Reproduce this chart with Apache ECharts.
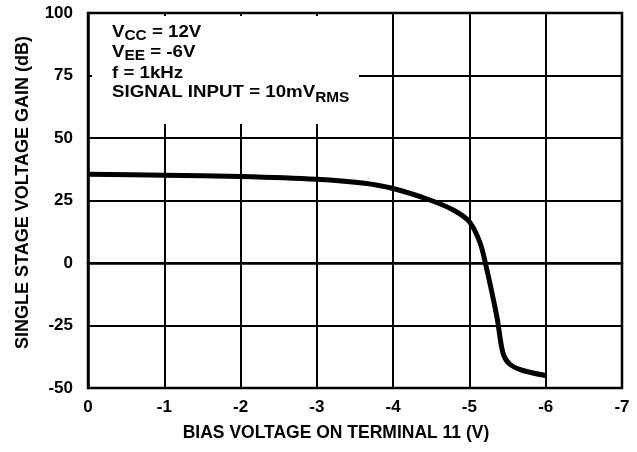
<!DOCTYPE html>
<html>
<head>
<meta charset="utf-8">
<script src="https://cdn.jsdelivr.net/npm/echarts@6/dist/echarts.min.js"></script>
<style>
  html, body { margin: 0; padding: 0; background: #fff; }
  #chart { width: 637px; height: 452px; }
</style>
</head>
<body>
<div id="chart"></div>
<script>
// bias voltage (V) vs single stage gain (dB)
var biasVolts = [0, -1, -2, -3, -3.6, -4, -4.5, -4.8, -5, -5.14, -5.22, -5.36, -5.44, -5.53, -5.7, -6];
var gainDb = [35.5, 35.1, 34.6, 33.5, 32, 29.8, 25, 21, 16.5, 8, -1.5, -21.5, -36, -40.5, -43, -45];

var xMin = -7, xMax = 0, xStep = 1;
var yMin = -50, yMax = 100, yStep = 25;

// [main text, subscript, rest]
var noteLines = [
  ['V', 'CC', ' = 12V'],
  ['V', 'EE', ' = -6V'],
  ['f = 1kHz', '', ''],
  ['SIGNAL INPUT = 10mV', 'RMS', '']
];

var FONT = '"Liberation Sans", Arial, sans-serif';
var myChart = echarts.init(document.getElementById('chart'));

var pts = [];
for (var i = 0; i < biasVolts.length; i++) {
  pts.push([biasVolts[i], gainDb[i]]);
}

// measure text so subscripts sit right after the main piece
var ctx = document.createElement('canvas').getContext('2d');
function textW(s, size) {
  ctx.font = 'bold ' + size + 'px ' + FONT;
  return ctx.measureText(s).width;
}

var sx = 1.1; // reference lettering is a bit wide
var mainSize = 17, subSize = 14;
var lineTops = [24, 44, 65, 84];
var subDrop = [5, 5, 0, 7];
var noteEls = [];
noteLines.forEach(function (ln, k) {
  var x = 112;
  var pieces = [[ln[0], mainSize, 0], [ln[1], subSize, subDrop[k]], [ln[2], mainSize, 0]];
  pieces.forEach(function (p) {
    if (!p[0]) return;
    noteEls.push({
      type: 'text', x: x, y: lineTops[k] + p[2], scaleX: sx, z: 110,
      style: { text: p[0], font: 'bold ' + p[1] + 'px ' + FONT, fill: '#000', verticalAlign: 'top' }
    });
    x += textW(p[0], p[1]) * sx;
  });
});

var labelStyle = { fontFamily: FONT, fontWeight: 'bold', fontSize: 17, color: '#000' };

myChart.setOption({
  animation: false,
  backgroundColor: '#fff',
  grid: {
    left: 88, right: 15, top: 13, bottom: 64,
    show: true, borderColor: '#000', borderWidth: 2.5, backgroundColor: 'transparent'
  },
  xAxis: {
    type: 'value',
    min: xMin, max: xMax, interval: xStep,
    inverse: true,
    name: 'BIAS VOLTAGE ON TERMINAL 11 (V)',
    nameLocation: 'middle',
    nameGap: 36,
    nameTextStyle: Object.assign({ padding: [0, 38, 0, 0] }, labelStyle, { fontSize: 17.5 }),
    axisLine: { lineStyle: { color: '#000', width: 2.5 } },
    axisTick: { show: false },
    axisLabel: Object.assign({ margin: 11 }, labelStyle),
    splitLine: { show: true, lineStyle: { color: '#000', width: 2 } }
  },
  yAxis: {
    type: 'value',
    min: yMin, max: yMax, interval: yStep,
    name: 'SINGLE STAGE VOLTAGE GAIN (dB)',
    nameLocation: 'middle',
    nameGap: 56,
    nameTextStyle: Object.assign({ padding: [0, 0, 0, 16] }, labelStyle, { fontSize: 18 }),
    axisLine: { lineStyle: { color: '#000', width: 2.5 } },
    axisTick: { show: false },
    axisLabel: Object.assign({ margin: 15 }, labelStyle),
    splitLine: { show: true, lineStyle: { color: '#000', width: 2 } }
  },
  graphic: [{
    type: 'rect', z: 100,
    shape: { x: 92, y: 16, width: 267, height: 108 },
    style: { fill: '#fff' }
  }].concat(noteEls),
  series: [{
    type: 'line',
    data: pts,
    smooth: 0.3,
    symbol: 'none',
    lineStyle: { color: '#000', width: 5 }
  }]
});
</script>
</body>
</html>
